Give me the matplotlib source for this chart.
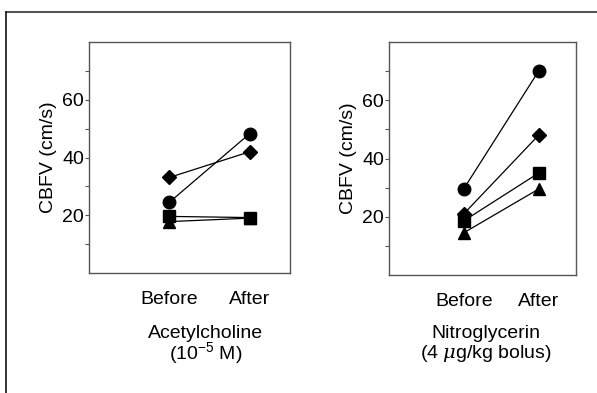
import matplotlib.pyplot as plt
from matplotlib.lines import Line2D

plt.rcParams['font.family'] = ['Liberation Sans', 'DejaVu Sans']
plt.rcParams['mathtext.fontset'] = 'custom'
plt.rcParams['mathtext.rm'] = 'Liberation Sans'
plt.rcParams['mathtext.it'] = 'DejaVu Serif:italic'

phases = ['Before', 'After']
markers = ['o', 'D', 's', '^']
marker_sizes = [9, 7, 8.5, 8]

# CBFV values (cm/s) for each subject: circle, diamond, square, triangle
ach_vals = [[24.5, 48.3], [33.1, 42.0], [19.6, 19.2], [17.8, 19.0]]
ntg_vals = [[29.6, 70.0], [21.0, 48.0], [18.6, 35.0], [14.5, 29.5]]

drug_names = ['Acetylcholine', 'Nitroglycerin']
drug_doses = ['(10$^{\\mathrm{-5}}$ M)', '(4 $\\mu$g/kg bolus)']
title_cx = [206, 486]

FS = 14

fig = plt.figure(figsize=(5.97, 3.93), dpi=100)
ax1 = fig.add_axes([89/597, 1-273/393, 201/597, 231/393])
ax2 = fig.add_axes([389/597, 1-275/393, 187/597, 233/393])

for ax, vals, name, dose, cx in zip([ax1, ax2], [ach_vals, ntg_vals],
                                    drug_names, drug_doses, title_cx):
    for v, m, ms in zip(vals, markers, marker_sizes):
        ax.plot([0, 1], v, color='black', lw=0.9, marker=m, ms=ms,
                markerfacecolor='black', markeredgecolor='black')
    ax.set_xlim(-1, 1.5)
    ax.set_ylim(0, 80)
    ax.set_yticks([20, 40, 60])
    ax.set_yticks([10, 30, 50, 70], minor=True)
    ax.set_xticks([0, 1])
    ax.set_xticklabels(phases, fontsize=FS)
    ax.tick_params(axis='x', length=0, pad=13)
    ax.tick_params(axis='y', which='both', direction='out', length=3,
                   width=0.8, color='#555555', labelsize=FS, pad=0.5)
    ax.set_ylabel('CBFV (cm/s)', fontsize=FS, labelpad=4)
    for s in ax.spines.values():
        s.set_color('#555555')
        s.set_linewidth(1.0)
    fig.text(cx/597, 1-333/393, name, ha='center', va='center', fontsize=FS)
    fig.text(cx/597, 1-353/393, dose, ha='center', va='center', fontsize=FS)

# outer frame lines (top and left)
fig.add_artist(Line2D([6/597, 1], [1-11.5/393, 1-11.5/393], color='#333333',
                      lw=1.2, transform=fig.transFigure))
fig.add_artist(Line2D([6/597, 6/597], [0, 1-11.5/393], color='#111111',
                      lw=1.2, transform=fig.transFigure))

fig.savefig('out.png', dpi=100)
